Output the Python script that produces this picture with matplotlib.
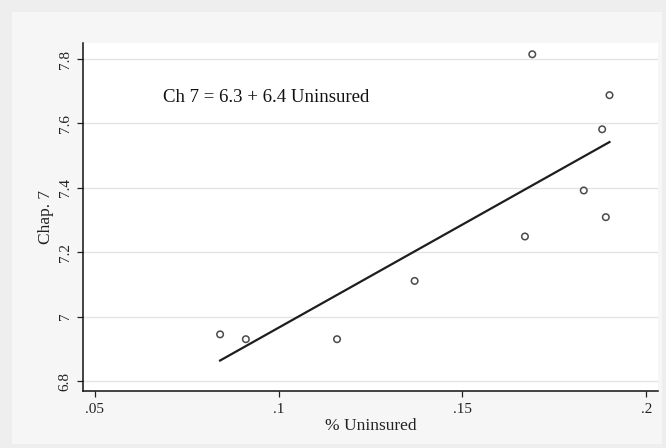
import matplotlib
matplotlib.use('Agg')
import matplotlib.pyplot as plt
import numpy as np
from matplotlib.patches import Rectangle

# % uninsured vs chapter 7 filings
uninsured = [0.0841, 0.0911, 0.1159, 0.1370, 0.1670, 0.1690, 0.1900, 0.1880, 0.1830, 0.1890]
chap7 = [6.945, 6.930, 6.930, 7.111, 7.249, 7.815, 7.688, 7.582, 7.392, 7.309]

x_ticks = [0.05, 0.1, 0.15, 0.2]
x_tick_labels = ['.05', '.1', '.15', '.2']
y_ticks = [6.8, 7.0, 7.2, 7.4, 7.6, 7.8]
y_tick_labels = ['6.8', '7', '7.2', '7.4', '7.6', '7.8']

plt.rcParams['font.family'] = ['Liberation Serif', 'DejaVu Serif']

fig = plt.figure(figsize=(6.66, 4.48), dpi=100, facecolor='#eeeeee')
# lighter graph region inside the outer border
fig.patches.append(Rectangle((12 / 666, 4 / 448), 650 / 666, 432 / 448,
                             transform=fig.transFigure, facecolor='#f6f6f6',
                             edgecolor='none', zorder=-10))

ax = fig.add_axes([0.1251, 0.1279, 0.8624, 0.7761])
ax.set_zorder(1)
ax.set_facecolor('white')

ax.scatter(uninsured, chap7, s=22, facecolors='none', edgecolors='#4a4a4a',
           linewidths=1.1, zorder=3)

# OLS fit line over the data range
slope, intercept = np.polyfit(uninsured, chap7, 1)
xs = np.array([min(uninsured), max(uninsured)])
ax.plot(xs, intercept + slope * xs, color='#1e1e1e', lw=1.6, zorder=2)

ax.text(0.0686, 7.682, 'Ch 7 = 6.3 + 6.4 Uninsured', fontsize=13.5,
        va='center', ha='left', color='#111111')

ax.set_xlim(0.0469, 0.2031)
ax.set_ylim(6.770, 7.850)
ax.set_xticks(x_ticks)
ax.set_xticklabels(x_tick_labels)
ax.set_yticks(y_ticks)
ax.set_yticklabels(y_tick_labels, rotation=90, va='center')
ax.tick_params(axis='both', labelsize=11, length=4.5, width=0.9,
               color='#222222', labelcolor='#222222', pad=4)

ax.grid(axis='y', color='#e4e4e4', lw=1.0)
ax.set_axisbelow(True)
for side in ['top', 'right']:
    ax.spines[side].set_visible(False)
for side in ['left', 'bottom']:
    ax.spines[side].set_color('#111111')
    ax.spines[side].set_linewidth(1.1)

ax.set_xlabel('% Uninsured', fontsize=12.5, color='#222222', labelpad=2)
ax.set_ylabel('Chap. 7', fontsize=12.5, color='#222222', labelpad=3)

fig.savefig('out.png', dpi=100, facecolor=fig.get_facecolor())
